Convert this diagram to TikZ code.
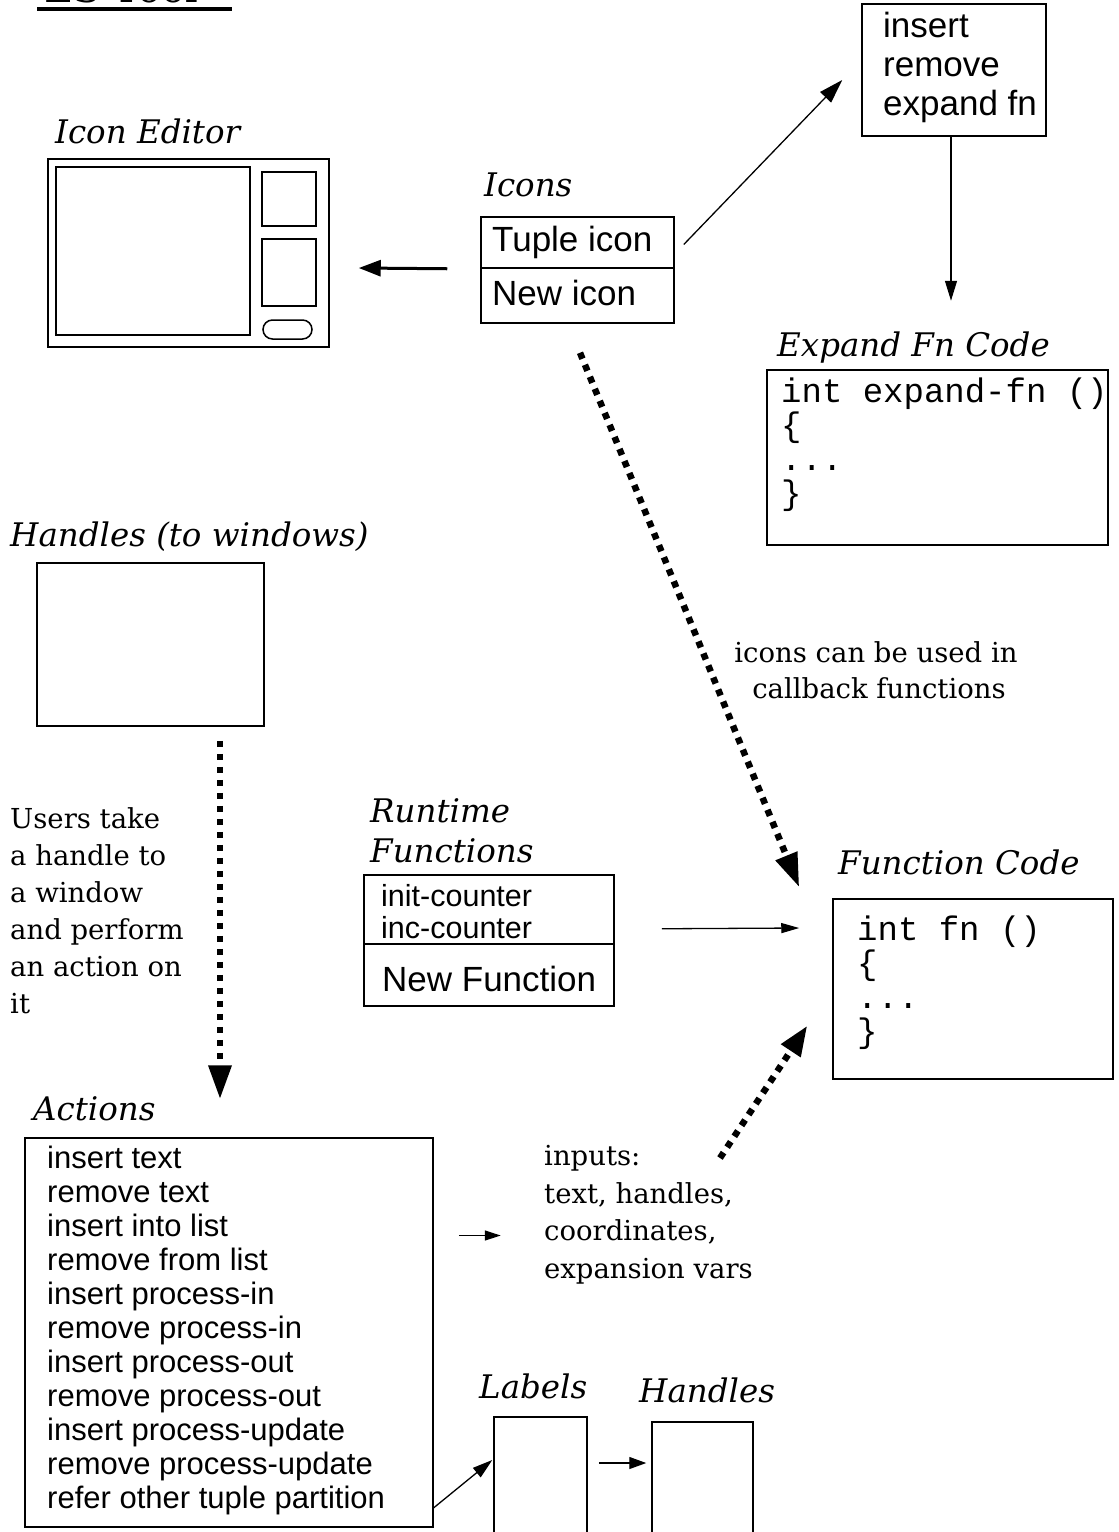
\documentclass[tikz,border=0pt]{standalone}
\usepackage{fontspec}
\setmainfont{DejaVu Serif}
\setsansfont{Liberation Sans}
\setmonofont{Liberation Mono}
\usetikzlibrary{arrows.meta,calc}
\begin{document}
\begin{tikzpicture}[x=1pt,y=-1pt,
  box/.style={draw, line width=1.5pt, inner sep=0pt},
  lab/.style={anchor=base west, inner sep=0pt, font=\fontsize{32.5}{37}\selectfont\itshape},
  serif/.style={anchor=base west, inner sep=0pt, font=\fontsize{27.5}{32}\selectfont},
  bigsans/.style={anchor=base west, inner sep=0pt, font=\sffamily\fontsize{35}{40}\selectfont},
  smallsans/.style={anchor=base west, inner sep=0pt, font=\sffamily\fontsize{31}{36}\selectfont},
  rtsans/.style={anchor=base west, inner sep=0pt, font=\sffamily\fontsize{30.5}{35}\selectfont},
  code/.style={anchor=base west, inner sep=0pt, font=\ttfamily\fontsize{34}{38}\selectfont},
  thinarrow/.style={line width=1.3pt, -{Triangle[length=20pt,width=12pt]}},
  thickarrow/.style={line width=3pt, -{Triangle[length=22pt,width=16pt]}},
  dotarrow/.style={line width=6.5pt, line cap=butt, dash pattern=on 6.5pt off 6.5pt, -{Triangle[length=34pt,width=22pt]}}
]
\useasboundingbox (0,0) rectangle (1119,1532);

% title (cut at top)
\node[anchor=base west, inner sep=0pt, font=\fontsize{40}{40}\selectfont] (ttl) at (44,2.5) {ES Tool};
\draw[line width=3.5pt] (37,9) -- (232,9);

% top right operations box
\node[box, minimum width=184, minimum height=132] (ops) at (954,70) {};
\node[bigsans] (ops1) at (883,37) {insert};
\node[bigsans] (ops2) at (883,76) {remove};
\node[bigsans] (ops3) at (883,115) {expand fn};

% icon editor
\node[lab] (edlab) at (55,143) {Icon Editor};
\node[box, minimum width=281, minimum height=188] (ed) at (188.5,253) {};
\node[box, minimum width=194, minimum height=168] (edmain) at (153,251) {};
\node[box, minimum width=54, minimum height=54] (eds1) at (289,199) {};
\node[box, minimum width=54, minimum height=67] (eds2) at (289,272.5) {};
\node[box, minimum width=49, minimum height=19, rounded corners=9.5pt] (edpill) at (287.5,329.5) {};

% icons
\node[lab] (iconslab) at (484,196) {Icons};
\node[box, minimum width=193, minimum height=51] (tuple) at (577.5,242.5) {};
\node[box, minimum width=193, minimum height=55] (newicon) at (577.5,295.5) {};
\node[bigsans] (tupletxt) at (492,251) {Tuple icon};
\node[bigsans] (newicontxt) at (492,305) {New icon};

% expand fn code
\node[lab] (explab) at (777,356) {Expand Fn Code};
\node[box, minimum width=341, minimum height=175] (expbox) at (937.5,457.5) {};
\node[code] (exp1) at (781,402) {int expand-fn ()};
\node[code] (exp2) at (781,436) {\{};
\node[code] (exp3) at (781,470) {...};
\node[code] (exp4) at (781,504) {\}};

% note
\node[anchor=base, inner sep=0pt, font=\fontsize{27.5}{32}\selectfont] (note1) at (876,662) {icons can be used in};
\node[anchor=base, inner sep=0pt, font=\fontsize{27.5}{32}\selectfont] (note2) at (879,698) {callback functions};

% handles to windows
\node[lab] (hwinlab) at (10,546) {Handles (to windows)};
\node[box, minimum width=227, minimum height=163] (hwin) at (150.5,644.5) {};

% users text
\node[serif] (u1) at (10,828) {Users take};
\node[serif] (u2) at (10,865) {a handle to};
\node[serif] (u3) at (10,902) {a window};
\node[serif] (u4) at (10,939) {and perform};
\node[serif] (u5) at (10,976) {an action on};
\node[serif] (u6) at (10,1013) {it};

% runtime functions
\node[lab] (rtlab1) at (370,822) {Runtime};
\node[lab] (rtlab2) at (370,862) {Functions};
\node[box, minimum width=250, minimum height=69] (rtop) at (489,909.5) {};
\node[box, minimum width=250, minimum height=62] (rbot) at (489,975) {};
\node[rtsans] (rt1) at (381,906) {init-counter};
\node[rtsans] (rt2) at (381,938) {inc-counter};
\node[bigsans] (rt3) at (382,991) {New Function};

% function code
\node[lab] (fclab) at (838,874) {Function Code};
\node[box, minimum width=280, minimum height=180] (fcode) at (973,989) {};
\node[code] (fc1) at (857,940) {int fn ()};
\node[code] (fc2) at (857,974) {\{};
\node[code] (fc3) at (857,1008) {...};
\node[code] (fc4) at (857,1042) {\}};

% inputs
\node[serif] (inp1) at (544,1165) {inputs:};
\node[serif] (inp2) at (544,1203) {text, handles,};
\node[serif] (inp3) at (544,1240) {coordinates,};
\node[serif] (inp4) at (544,1278) {expansion vars};

% actions
\node[lab] (actlab) at (33,1120) {Actions};
\node[box, minimum width=408, minimum height=389] (actbox) at (229,1332.5) {};
\foreach \t [count=\k from 0] in {insert text,remove text,insert into list,remove from list,insert process-in,remove process-in,insert process-out,remove process-out,insert process-update,remove process-update,refer other tuple partition}
  \node[smallsans] (act\k) at (47,1168+34*\k) {\t};

% labels and handles
\node[lab] (lablab) at (479,1398) {Labels};
\node[box, minimum width=93, minimum height=128] (labbox) at (540.5,1481) {};
\node[lab] (hanlab) at (639,1402) {Handles};
\node[box, minimum width=101, minimum height=123] (hanbox) at (702.5,1483.5) {};

% connectors
\draw[thinarrow, -{Triangle[length=24pt,width=15pt]}] ($(tuple.east)+(9,2)$) -- ($(ops.west)+(-19,10)$);
\draw[thinarrow] ([xshift=-3pt]ops.south) -- ++(0,164);
\draw[thickarrow] ($(tuple.south west)+(-33,0)$) -- ($(ed.east)+(29,15)$);
\draw[dotarrow] ($(newicon.south)+(2.5,29)$) -- ($(fcode.north west)+(-33,-11)$);
\draw[dotarrow] ($(hwin.south)+(69.5,14)$) -- ($(actbox.north)+(-9,-38)$);
\draw[thinarrow, -{Triangle[length=18pt,width=10pt]}] ($(rtop.south east)+(47,-16)$) -- ($(fcode.west)+(-33,-61)$);
\draw[dotarrow, -{Triangle[length=30pt,width=22pt]}] ($(inp1.base west)+(176,-7)$) -- ($(fcode.south west)+(-25,-54)$);
\draw[thinarrow, -{Triangle[length=16pt,width=10pt]}] ($(actbox.east)+(25,-97)$) -- ($(actbox.east)+(67,-97)$);
\draw[thinarrow] ($(actbox.south east)+(0,-20)$) -- ($(labbox.west)+(-1,-21)$);
\draw[thinarrow, -{Triangle[length=17pt,width=12pt]}] ($(labbox.east)+(11,-18)$) -- ($(hanbox.west)+(-5,-20.5)$);
\end{tikzpicture}
\end{document}
